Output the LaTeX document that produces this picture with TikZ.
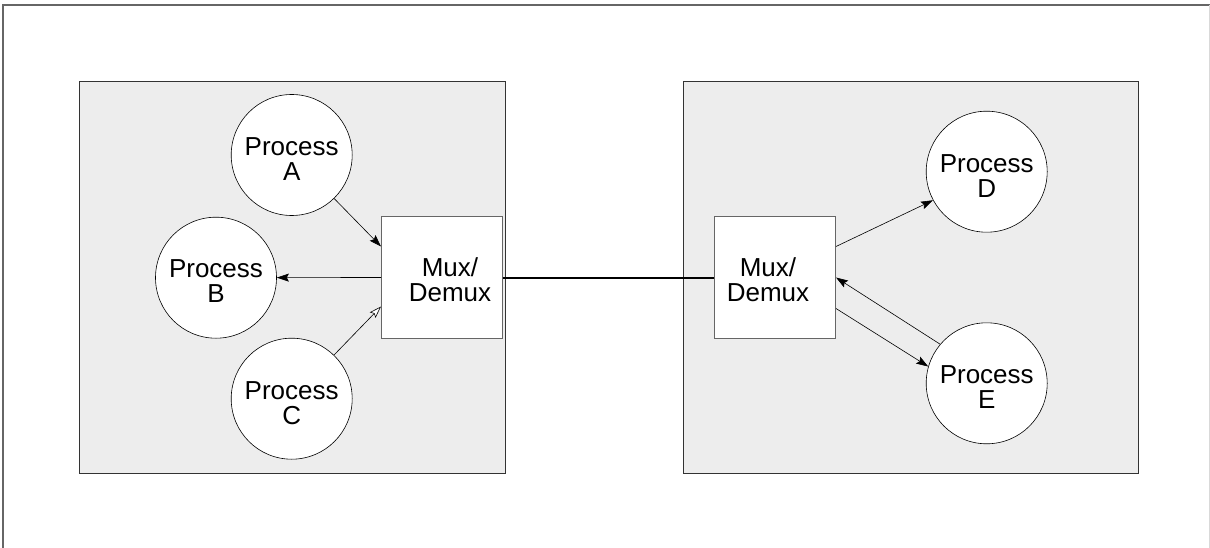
\documentclass[tikz,border=0pt]{standalone}
\usepackage{fontspec}
\setmainfont{Liberation Sans}
\usetikzlibrary{arrows.meta,calc}
\begin{document}
\begin{tikzpicture}[x=1pt,y=-1pt,
  panel/.style={draw=black!80,line width=1pt,fill=black!7},
  proc/.style={circle,draw=black,line width=0.6pt,fill=white,minimum size=121pt,inner sep=0pt},
  muxbox/.style={rectangle,draw=black!60,line width=1pt,fill=white,minimum width=121pt,minimum height=121pt,inner sep=0pt},
  txt/.style={align=center,font=\fontsize{26}{25}\selectfont,inner sep=0pt},
  arr/.style={line width=0.6pt,-{Stealth[length=12pt,width=8pt,inset=2pt]}},
  oarr/.style={line width=0.6pt,-{Stealth[length=12pt,width=8pt,inset=2pt,open,fill=white]}},
  link/.style={line width=2pt}
]
\useasboundingbox (0,0) rectangle (1210,548);
\draw[black!60,line width=1.2pt] (3,548) -- (3,5) -- (1210,5);
\draw[black!15,line width=1pt] (1209,5) -- (1209,548);
% panels
\draw[panel] (79,82) rectangle (505,473);
\draw[panel] (683,82) rectangle (1138,473);
% left side
\node[muxbox,label={[txt,xshift=8pt,yshift=-2pt]center:Mux/\\Demux}] (muxL) at (442,277.5) {};
\node[proc,label={[txt,yshift=-4pt]center:Process\\A}] (A) at (291.7,155) {};
\node[proc,label={[txt,yshift=-3pt]center:Process\\B}] (B) at (216,277.7) {};
\node[proc,label={[txt,yshift=-4pt]center:Process\\C}] (C) at (291.7,398.7) {};
% right side
\node[muxbox,label={[txt,xshift=-7pt,yshift=-2pt]center:Mux/\\Demux}] (muxR) at (775,277.5) {};
\node[proc,label={[txt,yshift=-4pt]center:Process\\D}] (D) at (986.7,171.7) {};
\node[proc,label={[txt,yshift=-4pt]center:Process\\E}] (E) at (986.7,383.3) {};
% connectors
\draw[link] (muxL.east) -- (muxR.west);
\draw[arr] (A) -- ($(muxL.west)+(0,-31)$);
\draw[arr] (muxL.west) -- (B);
\draw[oarr] (C) -- ($(muxL.west)+(0,29)$);
\draw[arr] ($(muxR.east)+(0,-31)$) -- (D.208);
\draw[arr] (E.140) -- (muxR.east);
\draw[arr] ($(muxR.east)+(0,31)$) -- (E.164);
\end{tikzpicture}
\end{document}
